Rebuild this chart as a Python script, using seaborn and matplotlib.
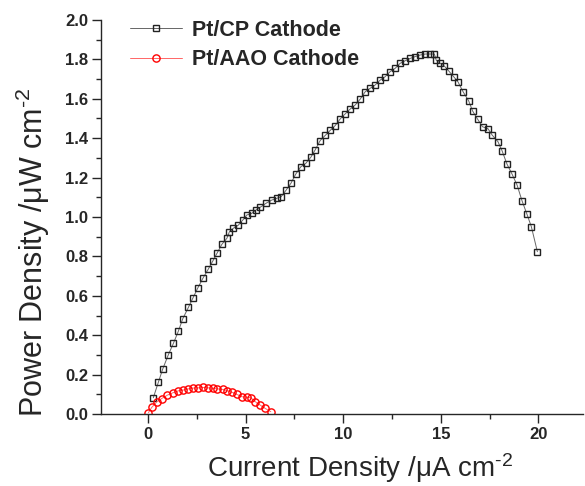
"""Power density vs current density for Pt/CP and Pt/AAO cathodes."""

import matplotlib
matplotlib.use("Agg")
import matplotlib.pyplot as plt
from matplotlib.ticker import MultipleLocator
import pandas as pd
import seaborn as sns

# Pt/CP cathode (black squares)
cp_current = [
    0.27, 0.53, 0.75, 1.04, 1.30, 1.55, 1.78, 2.07, 2.29, 2.55, 2.81, 3.09,
    3.32, 3.55, 3.78, 4.04, 4.17, 4.37, 4.63, 4.86, 5.06, 5.32, 5.54, 5.74,
    6.05, 6.34, 6.60, 6.82, 7.08, 7.32, 7.57, 7.83, 8.09, 8.34, 8.56, 8.82,
    9.08, 9.33, 9.59, 9.85, 10.10, 10.36, 10.62, 10.87, 11.13, 11.38, 11.64,
    11.90, 12.15, 12.41, 12.67, 12.92, 13.18, 13.44, 13.69, 13.95, 14.21,
    14.46, 14.67, 14.77, 14.97, 15.18, 15.40, 15.66, 15.88, 16.14, 16.43,
    16.63, 16.89, 17.14, 17.42, 17.63, 17.93, 18.14, 18.39, 18.65, 18.91,
    19.16, 19.42, 19.64, 19.95,
]
cp_power = [
    0.083, 0.162, 0.228, 0.301, 0.359, 0.420, 0.484, 0.542, 0.587, 0.640,
    0.689, 0.736, 0.777, 0.819, 0.861, 0.892, 0.925, 0.943, 0.959, 0.985,
    1.010, 1.019, 1.036, 1.049, 1.070, 1.086, 1.095, 1.103, 1.137, 1.171,
    1.218, 1.255, 1.273, 1.303, 1.340, 1.388, 1.414, 1.439, 1.464, 1.498,
    1.523, 1.548, 1.569, 1.598, 1.636, 1.653, 1.670, 1.695, 1.712, 1.738,
    1.755, 1.780, 1.793, 1.805, 1.814, 1.822, 1.827, 1.827, 1.827, 1.795,
    1.780, 1.766, 1.742, 1.712, 1.686, 1.636, 1.589, 1.538, 1.496, 1.458,
    1.448, 1.416, 1.382, 1.336, 1.269, 1.218, 1.162, 1.083, 1.013, 0.951,
    0.824,
]

# Pt/AAO cathode (red circles)
aao_current = [
    0.02, 0.19, 0.45, 0.70, 0.99, 1.27, 1.55, 1.81, 2.07, 2.32, 2.58, 2.84,
    3.09, 3.35, 3.55, 3.83, 4.07, 4.32, 4.55, 4.81, 5.06, 5.27, 5.49, 5.74,
    6.00, 6.29,
]
aao_power = [
    0.007, 0.034, 0.062, 0.079, 0.096, 0.108, 0.118, 0.122, 0.128, 0.132,
    0.133, 0.135, 0.133, 0.130, 0.128, 0.125, 0.118, 0.110, 0.100, 0.088,
    0.085, 0.083, 0.063, 0.046, 0.029, 0.012,
]

sns.set_style("ticks")
plt.rcParams["font.family"] = ["Liberation Sans", "DejaVu Sans"]
plt.rcParams["mathtext.fontset"] = "custom"
plt.rcParams["mathtext.rm"] = "Liberation Sans"
plt.rcParams["mathtext.default"] = "regular"

cp = pd.DataFrame({"current": cp_current, "power": cp_power})
aao = pd.DataFrame({"current": aao_current, "power": aao_power})

fig = plt.figure(figsize=(5.85, 4.86), dpi=100)
ax = fig.add_axes([0.173, 0.148, 0.824, 0.811])

sns.lineplot(
    data=cp, x="current", y="power", ax=ax, color="#666666", linewidth=0.7,
    marker="s", markersize=4.6, markerfacecolor="none",
    markeredgecolor="#222222", markeredgewidth=1.0, label="Pt/CP Cathode",
)
sns.lineplot(
    data=aao, x="current", y="power", ax=ax, color="#ff6666", linewidth=0.7,
    marker="o", markersize=5.2, markerfacecolor="none",
    markeredgecolor="red", markeredgewidth=1.0, label="Pt/AAO Cathode",
)

ax.set_xlim(-2.4, 22.3)
ax.set_ylim(0, 2.0)
ax.xaxis.set_major_locator(MultipleLocator(5))
ax.xaxis.set_minor_locator(MultipleLocator(2.5))
ax.yaxis.set_major_locator(MultipleLocator(0.2))
ax.yaxis.set_minor_locator(MultipleLocator(0.1))
ax.tick_params(which="major", length=6.5, width=1, labelsize=12, pad=3)
ax.tick_params(which="minor", length=3.5, width=1)
ax.yaxis.set_major_formatter(plt.FuncFormatter(lambda v, _: f"{v:.1f}"))
ax.xaxis.set_major_formatter(plt.FuncFormatter(lambda v, _: f"{v:.0f}"))
for lab in ax.get_xticklabels() + ax.get_yticklabels():
    lab.set_fontweight("bold")

sns.despine(ax=ax)
ax.spines["left"].set_linewidth(1)
ax.spines["bottom"].set_linewidth(1)

ax.set_xlabel("Current Density /μA cm$^{\\text{-2}}$", fontsize=20)
ax.set_ylabel("Power Density /μW cm$^{\\text{-2}}$", fontsize=22)
ax.xaxis.set_label_coords(0.537, -0.093)
ax.yaxis.set_label_coords(-0.103, 0.41)

ax.legend(
    loc="upper left", bbox_to_anchor=(0.02, 1.05), frameon=False,
    prop={"weight": "bold", "size": 15.5}, handlelength=2.4,
    handletextpad=0.45, labelspacing=0.4,
)

fig.savefig("out.png", dpi=100)
